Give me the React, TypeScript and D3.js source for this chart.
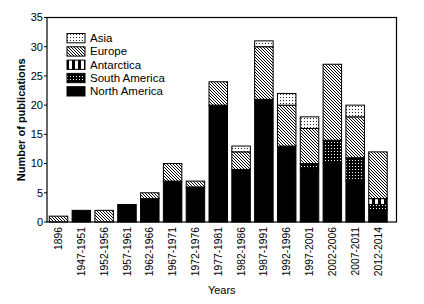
import React from "react";
import * as d3 from "d3";

const categories = [
  "1896", "1947-1951", "1952-1956", "1957-1961", "1962-1966", "1967-1971",
  "1972-1976", "1977-1981", "1982-1986", "1987-1991", "1992-1996",
  "1997-2001", "2002-2006", "2007-2011", "2012-2014",
];
const northAmerica = [0, 2, 0, 3, 4, 7, 6, 20, 9, 21, 13, 9, 10, 7, 2];
const southAmerica = [0, 0, 0, 0, 0, 0, 0, 0, 0, 0, 0, 1, 4, 4, 1];
const antarctica = [0, 0, 0, 0, 0, 0, 0, 0, 0, 0, 0, 0, 0, 0, 1];
const europe = [1, 0, 2, 0, 1, 3, 1, 4, 3, 9, 7, 6, 13, 7, 8];
const asia = [0, 0, 0, 0, 0, 0, 0, 0, 1, 1, 2, 2, 0, 2, 0];
const yTicks = [0, 5, 10, 15, 20, 25, 30, 35];

const seriesKeys = ["North America", "South America", "Antarctica", "Europe", "Asia"];
const seriesValues: Record<string, number[]> = {
  "North America": northAmerica,
  "South America": southAmerica,
  Antarctica: antarctica,
  Europe: europe,
  Asia: asia,
};
const legendOrder = ["Asia", "Europe", "Antarctica", "South America", "North America"];
const fillFor: Record<string, string> = {
  "North America": "#000",
  "South America": "url(#pSA)",
  Antarctica: "url(#pAnt)",
  Europe: "url(#pEu)",
  Asia: "url(#pAsia)",
};

const FONT = "'Liberation Sans', Arial, sans-serif";
const TILE = 12;
const tileIdx = d3.range(TILE);

export default function App() {
  const left = 47, right = 396.5, top = 17.5, bottom = 222;
  const rows = categories.map((c, i) => {
    const r: any = { cat: c };
    seriesKeys.forEach((k) => (r[k] = seriesValues[k][i]));
    return r;
  });
  const stacked = d3.stack<any>().keys(seriesKeys)(rows);
  const x = d3.scaleBand<string>().domain(categories).range([left, 389.5]).paddingInner(0.19).paddingOuter(0.1);
  const y = d3.scaleLinear().domain([0, 35]).range([bottom, top]);

  // pixel paths for patterns
  const euPath = tileIdx
    .flatMap((r) => tileIdx.filter((c) => (c - r + TILE) % 3 === 0).map((c) => `M${c},${r}h1v1h-1z`))
    .join("");
  const asiaPath = tileIdx
    .flatMap((r) => (r % 3 === 1 ? tileIdx.filter((c) => c % 3 === 1).map((c) => `M${c},${r}h1v1h-1z`) : []))
    .join("");

  return (
    <svg width={424} height={304} style={{ position: "absolute", left: 0, top: 0, display: "block" }} fontFamily={FONT}>
      <defs>
        <pattern id="pAsia" width={TILE} height={TILE} patternUnits="userSpaceOnUse">
          <rect width={TILE} height={TILE} fill="#fff" />
          <path d={asiaPath} fill="#222" shapeRendering="crispEdges" />
        </pattern>
        <pattern id="pEu" width={TILE} height={TILE} patternUnits="userSpaceOnUse">
          <rect width={TILE} height={TILE} fill="#fff" />
          <path d={euPath} fill="#000" shapeRendering="crispEdges" />
        </pattern>
        <pattern id="pAnt" width={6} height={6} patternUnits="userSpaceOnUse">
          <rect width={6} height={6} fill="#fff" />
          <rect width={3} height={6} fill="#000" />
        </pattern>
        <pattern id="pSA" width={3} height={3} patternUnits="userSpaceOnUse">
          <rect width={3} height={3} fill="#000" />
          <rect x={1} y={1} width={1} height={1} fill="#fff" shapeRendering="crispEdges" />
        </pattern>
      </defs>
      <rect x={0} y={0} width={424} height={304} fill="#fff" />
      {stacked.map((s) => (
        <g key={s.key}>
          {s.map((d, i) =>
            d[1] - d[0] > 0 ? (
              <rect
                key={i}
                x={x(categories[i])!}
                y={y(d[1])}
                width={x.bandwidth()}
                height={y(d[0]) - y(d[1])}
                fill={fillFor[s.key]}
                stroke="#000"
                strokeWidth={1}
              />
            ) : null
          )}
        </g>
      ))}
      <rect x={left} y={top} width={right - left} height={bottom - top} fill="none" stroke="#000" strokeWidth={1.2} />
      {yTicks.map((t) => (
        <g key={t}>
          <line x1={left - 3} x2={left} y1={y(t)} y2={y(t)} stroke="#000" />
          <text x={left - 4} y={y(t)} dy="0.35em" textAnchor="end" fontSize={11} fill="#000">
            {t}
          </text>
        </g>
      ))}
      {categories.map((c) => {
        const cx = x(c)! + x.bandwidth() / 2;
        return (
          <text
            key={c}
            transform={`translate(${cx},${bottom + 5}) rotate(-90)`}
            textAnchor="end"
            dy="0.35em"
            fontSize={10.3}
            fill="#000"
          >
            {c}
          </text>
        );
      })}
      <text
        transform={`translate(21,${(top + bottom) / 2}) rotate(-90)`}
        textAnchor="middle"
        dy="0.35em"
        fontSize={11}
        fontWeight="bold"
        fill="#000"
      >
        Number of publications
      </text>
      <text x={(left + right) / 2} y={294} textAnchor="middle" fontSize={11} fill="#000">
        Years
      </text>
      {legendOrder.map((k, i) => (
        <g key={k}>
          <rect x={67} y={33.5 + i * 13.3} width={18} height={9.3} fill={fillFor[k]} stroke="#000" strokeWidth={1} />
          <text x={90} y={33.5 + i * 13.3 + 8.5} fontSize={11.5} fill="#000">
            {k}
          </text>
        </g>
      ))}
    </svg>
  );
}
